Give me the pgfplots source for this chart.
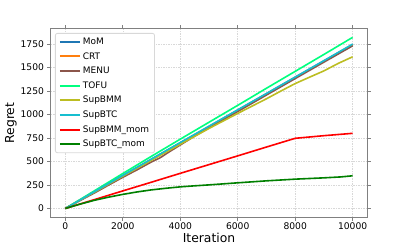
\documentclass[border=0pt]{standalone}
\usepackage{pgfplots}
\pgfplotsset{compat=1.18}
\usepackage{fontspec}
\setmainfont{DejaVu Sans}
\definecolor{cMoM}{HTML}{1F77B4}
\definecolor{cCRT}{HTML}{FF7F0E}
\definecolor{cMENU}{HTML}{8C564B}
\definecolor{cTOFU}{HTML}{00FF7F}
\definecolor{cSupBMM}{HTML}{BCBD22}
\definecolor{cSupBTC}{HTML}{17BECF}
\definecolor{cBMMmom}{HTML}{FF0000}
\definecolor{cBTCmom}{HTML}{008000}
\definecolor{frame}{HTML}{808080}
\definecolor{gridc}{HTML}{D8D8D8}
\begin{document}
\begin{tikzpicture}
\path[use as bounding box] (-51bp,-27bp) rectangle (356bp,217bp);
\begin{axis}[
  at={(0,0)}, anchor=south west,
  scale only axis, width=316bp, height=188bp,
  xmin=-500, xmax=10500, ymin=-91, ymax=1911,
  xtick={0,2000,4000,6000,8000,10000},
  ytick={0,250,500,750,1000,1250,1500,1750},
  scaled ticks=false,
  /pgf/number format/assume math mode=true,
  /pgf/number format/set thousands separator={},
  ticklabel style={font=\fontsize{9.2}{11}\selectfont, text=black},
  xticklabel style={yshift=1bp},
  tick align=outside,
  major tick length=3.5bp,
  tick style={frame, line width=0.8bp},
  axis line style={frame, line width=1bp},
  grid=major,
  major grid style={gridc, dash pattern=on 1.5bp off 1bp, line width=0.5bp},
  xlabel={Iteration}, ylabel={Regret},
  label style={font=\fontsize{12.4}{14}\selectfont},
  xlabel style={yshift=4bp},
  ylabel style={yshift=-3bp},
  legend cell align=left,
  legend style={at={(0,1)}, anchor=north west, xshift=4bp, yshift=-4bp,
    draw=gridc, rounded corners=2bp, line width=0.8bp,
    font=\fontsize{9}{10.5}\selectfont, row sep=2.5bp,
    inner xsep=3.5bp, inner ysep=2.5bp},
  legend image code/.code={\draw[#1, line width=2bp] (0bp,0bp) -- (20bp,0bp);},
]
\addplot[cMoM, line width=1.6bp] coordinates {(0,0) (500,87) (1000,175) (2000,350) (3000,524) (4000,699) (5000,873) (6000,1048) (7000,1222) (8000,1397) (9000,1571) (10000,1745)};
\addlegendentry{MoM}
\addplot[cCRT, line width=1.6bp] coordinates {(0,0) (500,86) (1000,174) (2000,349) (3000,523) (4000,697) (5000,871) (6000,1045) (7000,1219) (8000,1394) (9000,1568) (10000,1742)};
\addlegendentry{CRT}
\addplot[cMENU, line width=1.6bp] coordinates {(0,0) (500,82) (1000,163) (1500,248) (2000,332) (2500,412) (3000,496) (3300,540) (3600,600) (4000,676) (4500,770) (5000,858) (6000,1032) (7000,1208) (8000,1383) (9000,1558) (10000,1732)};
\addlegendentry{MENU}
\addplot[cTOFU, line width=1.6bp] coordinates {(0,0) (500,93) (1000,186) (2000,372) (3000,556) (4000,738) (5000,918) (6000,1098) (7000,1280) (8000,1460) (9000,1640) (10000,1822)};
\addlegendentry{TOFU}
\addplot[cSupBMM, line width=1.6bp] coordinates {(0,0) (500,86) (1000,172) (2000,344) (3000,514) (4000,684) (5000,852) (5500,932) (6000,1012) (6500,1090) (7000,1168) (7500,1250) (8000,1330) (8500,1398) (9000,1465) (9500,1545) (10000,1615)};
\addlegendentry{SupBMM}
\addplot[cSupBTC, line width=1.6bp] coordinates {(0,0) (500,88) (1000,176) (2000,352) (3000,527) (4000,702) (5000,876) (6000,1050) (7000,1224) (8000,1399) (9000,1574) (10000,1750)};
\addlegendentry{SupBTC}
\addplot[cBMMmom, line width=1.6bp] coordinates {(0,0) (1000,93) (2000,187) (3000,280) (4000,374) (5000,467) (6000,560) (7000,654) (8000,747) (9000,775) (10000,800)};
\addlegendentry{SupBMM\_mom}
\addplot[cBTCmom, line width=1.6bp] coordinates {(0,0) (500,45) (1000,86) (1500,120) (2000,150) (2500,176) (3000,198) (3500,215) (4000,230) (4500,241) (5000,251) (6000,273) (7000,294) (8000,312) (9000,326) (9600,336) (10000,348)};
\addlegendentry{SupBTC\_mom}
\end{axis}
\end{tikzpicture}
\end{document}
